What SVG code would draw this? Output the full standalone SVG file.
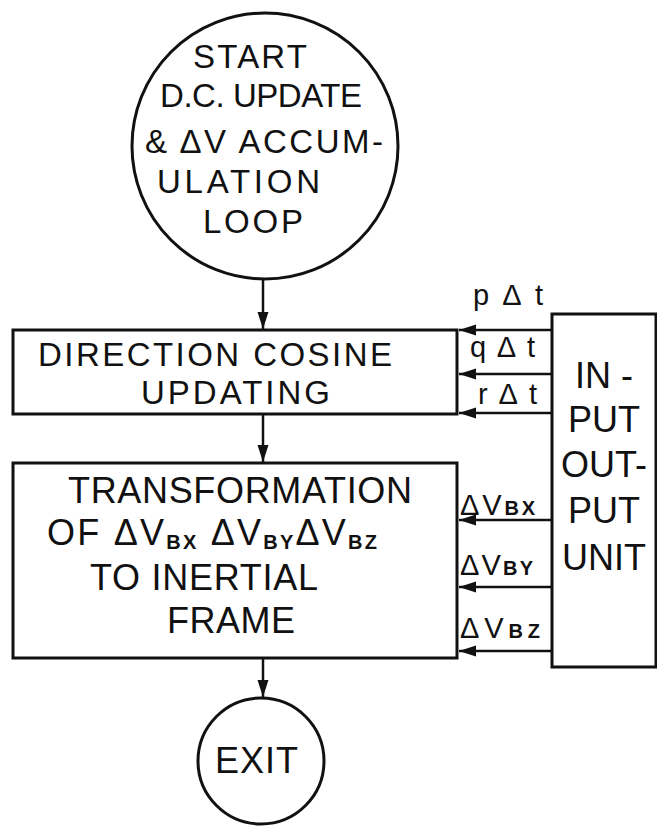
<svg xmlns="http://www.w3.org/2000/svg" width="657" height="827" viewBox="0 0 657 827">
<defs>
<style>
.shape{fill:#fff;stroke:#111;stroke-width:3}
.line{fill:none;stroke:#111;stroke-width:2.5}
.t{font-family:"Liberation Sans","DejaVu Sans",sans-serif;fill:#111;font-size:36px}
.t2{font-family:"Liberation Sans","DejaVu Sans",sans-serif;fill:#111;font-size:33px}
.s{font-family:"Liberation Sans","DejaVu Sans",sans-serif;fill:#111;font-size:33px}
.lb{font-family:"Liberation Sans","DejaVu Sans",sans-serif;fill:#111;font-size:29px}
.sub{font-size:20px;font-weight:bold}
</style>
<marker id="ah" markerUnits="userSpaceOnUse" markerWidth="18" markerHeight="12" refX="17" refY="5.5" orient="auto">
<path d="M0,0 L17,5.5 L0,11 z" fill="#111"/>
</marker>
</defs>
<rect width="657" height="827" fill="#fff"/>

<g id="connectors">
<line class="line" x1="263" y1="278" x2="263" y2="329" marker-end="url(#ah)"/>
<line class="line" x1="263" y1="414" x2="263" y2="462" marker-end="url(#ah)"/>
<line class="line" x1="263" y1="658" x2="263" y2="697" marker-end="url(#ah)"/>
<line class="line" x1="552" y1="330" x2="459" y2="330" marker-end="url(#ah)"/>
<line class="line" x1="552" y1="374" x2="459" y2="374" marker-end="url(#ah)"/>
<line class="line" x1="552" y1="413" x2="459" y2="413" marker-end="url(#ah)"/>
<line class="line" x1="552" y1="520" x2="459" y2="520" marker-end="url(#ah)"/>
<line class="line" x1="552" y1="587" x2="459" y2="587" marker-end="url(#ah)"/>
<line class="line" x1="552" y1="651" x2="459" y2="651" marker-end="url(#ah)"/>
<text class="lb" x="473" y="305" textLength="70" lengthAdjust="spacing">pΔt</text>
<text class="lb" x="470" y="357" textLength="65" lengthAdjust="spacing">qΔt</text>
<text class="lb" x="478" y="404" textLength="59" lengthAdjust="spacing">rΔt</text>
<text class="lb" x="460" y="515" textLength="75" lengthAdjust="spacing">ΔV<tspan class="sub">BX</tspan></text>
<text class="lb" x="460" y="575" textLength="73" lengthAdjust="spacing">ΔV<tspan class="sub">BY</tspan></text>
<text class="lb" x="460" y="638" textLength="80" lengthAdjust="spacing">ΔV<tspan class="sub">BZ</tspan></text>
</g>

<g id="start">
<circle class="shape" cx="265" cy="146" r="133"/>
<text class="s" x="193" y="68" textLength="114" lengthAdjust="spacing">START</text>
<text class="s" x="160" y="107" textLength="202" lengthAdjust="spacing">D.C. UPDATE</text>
<text class="s" x="145" y="153" textLength="238" lengthAdjust="spacing">&amp; ΔV ACCUM-</text>
<text class="s" x="157" y="193" textLength="163" lengthAdjust="spacing">ULATION</text>
<text class="s" x="203" y="233" textLength="100" lengthAdjust="spacing">LOOP</text>
</g>

<g id="dc-update">
<rect class="shape" x="13" y="330" width="444" height="84"/>
<text class="t2" x="38" y="366" textLength="354" lengthAdjust="spacing">DIRECTION COSINE</text>
<text class="t2" x="141" y="404" textLength="189" lengthAdjust="spacing">UPDATING</text>
</g>

<g id="transformation">
<rect class="shape" x="13" y="463" width="444" height="195"/>
<text class="t" x="68" y="503" textLength="344" lengthAdjust="spacing">TRANSFORMATION</text>
<text class="t" x="47" y="545" textLength="330" lengthAdjust="spacing">OF ΔV<tspan class="sub" dy="4">BX</tspan><tspan dy="-4"> ΔV</tspan><tspan class="sub" dy="4">BY</tspan><tspan dy="-4">ΔV</tspan><tspan class="sub" dy="4">BZ</tspan></text>
<text class="t" x="90" y="590" textLength="228" lengthAdjust="spacing">TO INERTIAL</text>
<text class="t" x="167" y="633" textLength="128" lengthAdjust="spacing">FRAME</text>
</g>

<g id="io-unit">
<rect class="shape" x="552" y="314" width="104" height="353"/>
<text class="t" x="604" y="388" text-anchor="middle">IN -</text>
<text class="t" x="604" y="432" text-anchor="middle">PUT</text>
<text class="t" x="604" y="477" text-anchor="middle">OUT-</text>
<text class="t" x="604" y="523" text-anchor="middle">PUT</text>
<text class="t" x="604" y="570" text-anchor="middle">UNIT</text>
</g>

<g id="exit">
<circle class="shape" cx="261" cy="761" r="63"/>
<text class="t" x="215" y="773" textLength="83" lengthAdjust="spacing">EXIT</text>
</g>
</svg>
